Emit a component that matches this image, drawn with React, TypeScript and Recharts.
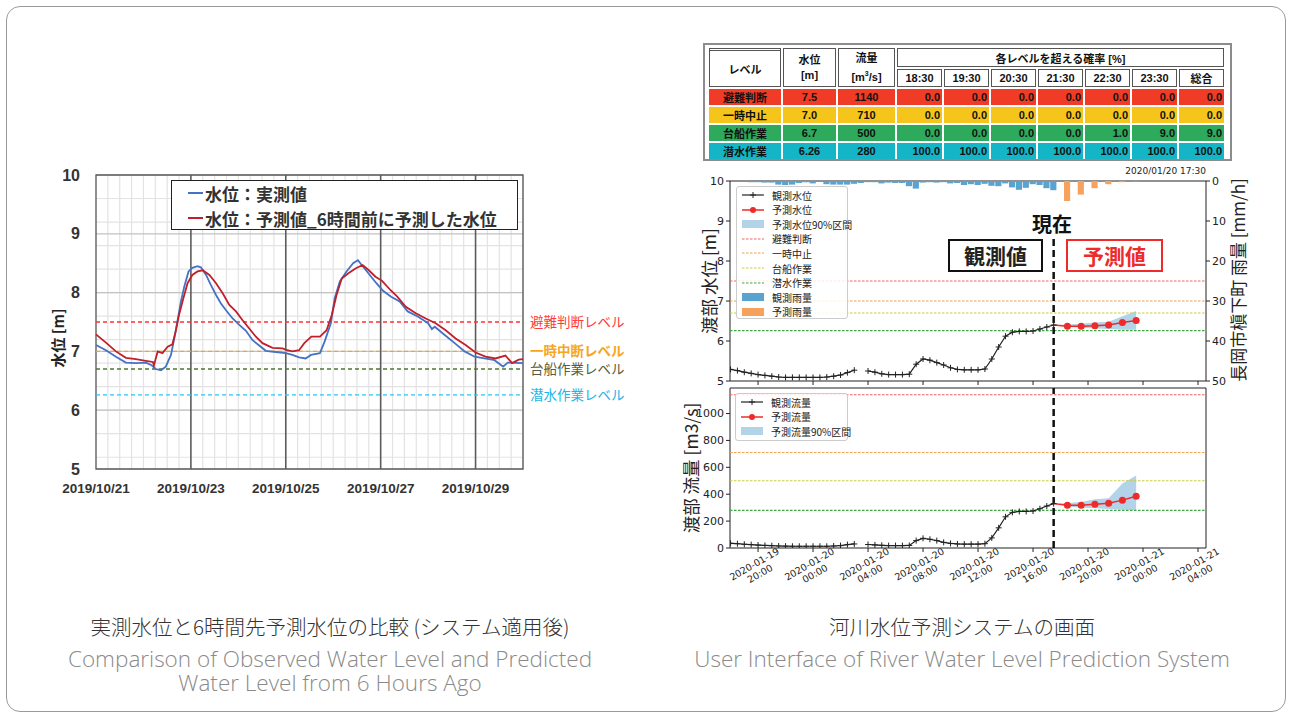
import React from 'react';
import {
  LineChart, Line, ComposedChart, Bar, Cell, Area, XAxis, YAxis, CartesianGrid, ReferenceLine, ReferenceArea,
} from 'recharts';

// ---- left: observed vs. 6h-ahead predicted level (x = days from 2019/10/21 00:00)
const obsDays = [0, 0.21, 0.42, 0.63, 0.84, 1.05, 1.16, 1.26, 1.37, 1.47, 1.58, 1.65, 1.72, 1.79, 1.86, 1.95, 2.03, 2.14, 2.21, 2.32, 2.42, 2.53, 2.63, 2.74, 2.88, 3.02, 3.16, 3.3, 3.44, 3.58, 3.79, 4.0, 4.14, 4.28, 4.42, 4.53, 4.72, 4.82, 4.95, 5.03, 5.14, 5.28, 5.42, 5.52, 5.63, 5.77, 5.91, 6.05, 6.22, 6.4, 6.57, 6.79, 7.0, 7.08, 7.14, 7.35, 7.56, 7.77, 7.98, 8.19, 8.4, 8.58, 8.68, 9.0];
const obsLevels = [7.11, 7.02, 6.91, 6.81, 6.8, 6.81, 6.77, 6.7, 6.68, 6.74, 6.94, 7.22, 7.53, 7.85, 8.1, 8.36, 8.42, 8.45, 8.43, 8.3, 8.13, 7.96, 7.82, 7.7, 7.56, 7.45, 7.35, 7.19, 7.1, 7.01, 6.99, 6.97, 6.94, 6.9, 6.88, 6.94, 6.97, 7.17, 7.48, 7.9, 8.19, 8.36, 8.5, 8.55, 8.44, 8.3, 8.16, 8.03, 7.93, 7.85, 7.68, 7.59, 7.48, 7.38, 7.42, 7.28, 7.14, 7.0, 6.91, 6.88, 6.85, 6.74, 6.81, 6.8];
const predDays = [0, 0.21, 0.42, 0.63, 0.84, 1.05, 1.2, 1.22, 1.3, 1.4, 1.51, 1.61, 1.68, 1.75, 1.84, 1.93, 2.03, 2.14, 2.25, 2.39, 2.53, 2.67, 2.81, 2.95, 3.09, 3.23, 3.37, 3.51, 3.72, 3.93, 4.03, 4.14, 4.28, 4.39, 4.54, 4.72, 4.86, 4.97, 5.07, 5.18, 5.32, 5.47, 5.62, 5.75, 5.89, 6.03, 6.21, 6.35, 6.53, 6.74, 6.95, 7.16, 7.37, 7.58, 7.79, 8.0, 8.21, 8.42, 8.63, 8.77, 8.91, 9.0];
const predLevels = [7.29, 7.15, 7.0, 6.89, 6.87, 6.84, 6.82, 6.76, 7.0, 6.97, 7.08, 7.12, 7.34, 7.62, 7.9, 8.16, 8.3, 8.36, 8.38, 8.3, 8.16, 7.99, 7.79, 7.68, 7.53, 7.39, 7.25, 7.14, 7.06, 7.05, 7.02, 7.0, 7.02, 7.14, 7.25, 7.25, 7.36, 7.62, 7.96, 8.24, 8.33, 8.41, 8.47, 8.38, 8.27, 8.2, 8.04, 7.93, 7.76, 7.65, 7.56, 7.48, 7.36, 7.22, 7.11, 6.98, 6.91, 6.88, 6.93, 6.8, 6.86, 6.87];
const leftTicks = [0, 2, 4, 6, 8];
const leftTickLabels = ['2019/10/21', '2019/10/23', '2019/10/25', '2019/10/27', '2019/10/29'];
const leftYTicks = [5, 6, 7, 8, 9, 10];
const levelValues = [7.5, 7.0, 6.7, 6.26];
const levelNames = ['避難判断レベル', '一時中断レベル', '台船作業レベル', '潜水作業レベル'];
const levelLineColors = ['#ff3030', '#f5a623', '#4c7a2c', '#2cc4f0'];
const levelTextColors = ['#ff3b3b', '#f5a623', '#55603f', '#22b5e8'];
const legendNames = ['水位：実測値', '水位：予測値_6時間前に予測した水位'];
const legendColors = ['#4472c4', '#c0202a'];

// ---- right: prediction system screen (x = hours from 2020-01-20 00:00)
const hours = [-6, -5.5, -5, -4.5, -4, -3.5, -3, -2.5, -2, -1.5, -1, -0.5, 0, 0.5, 1, 1.5, 2, 2.5, 3, 3.5, 4, 4.5, 5, 5.5, 6, 6.5, 7, 7.5, 8, 8.5, 9, 9.5, 10, 10.5, 11, 11.5, 12, 12.5, 13, 13.5, 14, 14.5, 15, 15.5, 16, 16.5, 17, 17.5, 18, 18.5, 19, 19.5, 20, 20.5, 21, 21.5, 22, 22.5, 23, 23.5];
const obsLevel = [5.29, 5.26, 5.22, 5.19, 5.16, 5.14, 5.12, 5.1, 5.09, 5.09, 5.09, 5.09, 5.09, 5.09, 5.1, 5.12, 5.15, 5.21, 5.27, null, 5.25, 5.22, 5.18, 5.16, 5.16, 5.16, 5.17, 5.42, 5.55, 5.52, 5.46, 5.4, 5.33, 5.29, 5.28, 5.28, 5.28, 5.3, 5.55, 5.85, 6.12, 6.22, 6.24, 6.24, 6.25, 6.3, 6.35, 6.4];
const obsFlow = [35, 32, 28, 25, 22, 19, 17, 15, 14, 13, 13, 13, 13, 13, 13, 15, 18, 25, 30, null, 26, 23, 20, 18, 18, 18, 19, 55, 72, 65, 55, 42, 34, 30, 29, 29, 29, 32, 75, 150, 232, 265, 272, 272, 275, 292, 312, 330];
const obsRain = [null, null, null, 0.3, 0.3, 0.4, 0.4, 0.9, 1.0, 0.9, 0.5, 0.3, 0.6, 0.2, 0.8, 0.9, 0.9, 0.9, 0.7, 0.5, 0.3, 0.3, 0.6, 0.4, 0.5, 0.5, 1.3, 1.9, 0.4, 0.3, 0.4, 0.3, 0.6, 0.5, 1.0, 0.8, 1.0, 0.7, 1.2, 1.3, 0.6, 1.6, 2.2, 1.7, 0.8, 1.0, 1.8, 2.3];
const fcHours = [17.5, 18.5, 19.5, 20.5, 21.5, 22.5, 23.5];
const fcLevel = [6.4, 6.37, 6.37, 6.38, 6.4, 6.46, 6.51];
const fcLevelLow = [6.4, 6.35, 6.33, 6.31, 6.3, 6.28, 6.28];
const fcLevelHigh = [6.4, 6.41, 6.43, 6.46, 6.48, 6.62, 6.75];
const fcFlow = [330, 318, 318, 326, 333, 356, 385];
const fcFlowLow = [330, 308, 300, 295, 290, 285, 280];
const fcFlowHigh = [330, 334, 342, 362, 370, 480, 540];
const fcRainHours = [18.5, 19.5, 20.5, 21.5, 22.5, 23.5];
const fcRain = [5.0, 3.4, 1.8, 0.8, 0.3, 0.1];
const rightTicks = [-4, 0, 4, 8, 12, 16, 20, 24, 28];
const rightTickDates = ['2020-01-19', '2020-01-20', '2020-01-20', '2020-01-20', '2020-01-20', '2020-01-20', '2020-01-20', '2020-01-21', '2020-01-21'];
const rightTickTimes = ['20:00', '00:00', '04:00', '08:00', '12:00', '16:00', '20:00', '00:00', '04:00'];
const stageThresholds = [7.5, 7.0, 6.7, 6.26];
const flowThresholds = [1140, 710, 500, 280];
const thresholdColors = ['#f26262', '#f0a04e', '#c9cc45', '#3fa845'];
const nowHour = 17.5;

// ---- table
const tableLevels = ['避難判断', '一時中止', '台船作業', '潜水作業'];
const tableStages = ['7.5', '7.0', '6.7', '6.26'];
const tableFlows = ['1140', '710', '500', '280'];
const tableTimes = ['18:30', '19:30', '20:30', '21:30', '22:30', '23:30', '総合'];
const tableProbs = [
  ['0.0', '0.0', '0.0', '0.0', '0.0', '0.0', '0.0'],
  ['0.0', '0.0', '0.0', '0.0', '0.0', '0.0', '0.0'],
  ['0.0', '0.0', '0.0', '0.0', '1.0', '9.0', '9.0'],
  ['100.0', '100.0', '100.0', '100.0', '100.0', '100.0', '100.0'],
];
const rowColors = ['#f03c26', '#f6c51c', '#2eaa5c', '#14b5c6'];

const JP = '"Noto Sans CJK JP", sans-serif';
const MPL = '"DejaVu Sans", "Noto Sans CJK JP", sans-serif';
const TBL = '"Liberation Sans", "Noto Sans CJK JP", sans-serif';

const leftRows = [
  ...obsDays.map((d, i) => ({ d, obs: obsLevels[i] })),
  ...predDays.map((d, i) => ({ d, pred: predLevels[i] })),
].sort((a, b) => a.d - b.d);

const minorX = Array.from({ length: 37 }, (_, i) => i * 0.25);
const minorY = Array.from({ length: 51 }, (_, i) => 5 + i * 0.1);

const rightRows = hours.map((h, i) => {
  const f = fcHours.indexOf(h);
  const r = fcRainHours.indexOf(h);
  return {
    h,
    lv: obsLevel[i] ?? null,
    fl: obsFlow[i] ?? null,
    rain: r >= 0 ? fcRain[r] : obsRain[i] ?? null,
    fcr: r >= 0,
    lvFc: f >= 0 ? fcLevel[f] : null,
    flFc: f >= 0 ? fcFlow[f] : null,
    lvBand: f >= 0 ? [fcLevelLow[f], fcLevelHigh[f]] : null,
    flBand: f >= 0 ? [fcFlowLow[f], fcFlowHigh[f]] : null,
  };
});

const xDomain: [number, number] = [-6.04, 28.58];

const PlusDot = (p: any) => {
  if (p.cx == null || p.cy == null || p.value == null) return <g key={`pd${p.index}`} />;
  return <path key={`pd${p.index}`} d={`M${p.cx - 3},${p.cy}h6M${p.cx},${p.cy - 3}v6`} stroke="#222" strokeWidth={1} />;
};

const RedDot = (p: any) => {
  if (p.cx == null || p.cy == null || p.value == null || p.payload.h === nowHour) return <g key={`rd${p.index}`} />;
  return <circle key={`rd${p.index}`} cx={p.cx} cy={p.cy} r={3.5} fill="#ee2a2a" />;
};

const DateTick = (p: any) => {
  const i = rightTicks.indexOf(p.payload.value);
  return (
    <g transform={`translate(${p.x - 2},${p.y + 13}) rotate(-30)`}>
      <text textAnchor="middle" fontSize={9.5} fill="#222" fontFamily={MPL}>
        <tspan x={0} dy={0}>{rightTickDates[i]}</tspan>
        <tspan x={0} dy={11}>{rightTickTimes[i]}</tspan>
      </text>
    </g>
  );
};

const Swatch = ({ kind, color }: { kind: string; color: string }) => (
  <svg width={22} height={10} style={{ marginRight: 8 }}>
    {kind === 'plus' && <><line x1={0} y1={5} x2={22} y2={5} stroke={color} strokeWidth={1.2} /><path d="M11,2v6M8,5h6" stroke={color} /></>}
    {kind === 'dot' && <><line x1={0} y1={5} x2={22} y2={5} stroke={color} strokeWidth={1.5} /><circle cx={11} cy={5} r={3} fill={color} /></>}
    {kind === 'patch' && <rect x={0} y={1} width={22} height={8} fill={color} />}
    {kind === 'dash' && <line x1={0} y1={5} x2={22} y2={5} stroke={color} strokeWidth={1.2} strokeDasharray="2.5 1.5" />}
  </svg>
);

const topLegend = [
  ['plus', '#222', '観測水位'], ['dot', '#ee2a2a', '予測水位'], ['patch', '#b3d3e8', '予測水位90%区間'],
  ['dash', thresholdColors[0], '避難判断'], ['dash', thresholdColors[1], '一時中止'], ['dash', thresholdColors[2], '台船作業'],
  ['dash', thresholdColors[3], '潜水作業'], ['patch', '#5aa2cf', '観測雨量'], ['patch', '#f6a15c', '予測雨量'],
];
const bottomLegend = [['plus', '#222', '観測流量'], ['dot', '#ee2a2a', '予測流量'], ['patch', '#b3d3e8', '予測流量90%区間']];

const MplLegend = ({ items, left, top, width, height }: any) => (
  <div style={{ position: 'absolute', left, top, width, height, border: '1px solid #ccc', borderRadius: 3, background: 'rgba(255,255,255,0.85)', boxSizing: 'border-box', fontFamily: JP, fontSize: 10, color: '#222' }}>
    {items.map((it: string[], i: number) => (
      <div key={i} style={{ position: 'absolute', left: 5, top: 1 + i * 14.6, height: 14, display: 'flex', alignItems: 'center', whiteSpace: 'nowrap' }}>
        <Swatch kind={it[0]} color={it[1]} />{it[2]}
      </div>
    ))}
  </div>
);

const rotLabel = (text: string, x: number, y: number, size: number, extra: any = {}) => (
  <div style={{ position: 'absolute', left: x, top: y, transform: 'translate(-50%,-50%) rotate(-90deg)', whiteSpace: 'nowrap', fontSize: size, ...extra }}>{text}</div>
);

const cellHead: React.CSSProperties = { border: '1.5px solid #555', background: '#fff', textAlign: 'center', padding: 0 };
const enCaption: React.CSSProperties = { position: 'absolute', textAlign: 'center', fontFamily: '"Open Sans", sans-serif', fontWeight: 300, fontSize: 22.5, lineHeight: '23px', color: '#8a8a8a', whiteSpace: 'nowrap' };
const jpCaption: React.CSSProperties = { position: 'absolute', top: 611, textAlign: 'center', fontSize: 20.5, fontWeight: 300, color: '#333', whiteSpace: 'nowrap' };

export default function App() {
  return (
    <div style={{ position: 'absolute', left: 0, top: 0, width: 1292, height: 718, background: '#fff', fontFamily: JP, overflow: 'hidden' }}>
      <div style={{ position: 'absolute', left: 6, top: 6, width: 1280, height: 706, border: '1px solid #9a9a9a', borderRadius: 14, boxSizing: 'border-box' }} />

      {/* left chart */}
      <div style={{ position: 'absolute', left: 0, top: 160, fontFamily: JP }}>
        <LineChart width={640} height={345} data={leftRows} margin={{ top: 15, right: 117, bottom: 0, left: 56 }}>
          <CartesianGrid stroke="#e3e3e3" strokeWidth={1.2} horizontalValues={minorY} verticalValues={minorX} />
          <CartesianGrid stroke="#c2c2c2" strokeWidth={1.2} horizontalValues={[6, 7, 8, 9]} vertical={false} />
          <XAxis type="number" dataKey="d" domain={[0, 9]} ticks={leftTicks} tickFormatter={(v: number) => leftTickLabels[leftTicks.indexOf(v)]}
            tickLine={false} axisLine={false} tickSize={0} tickMargin={14} height={36}
            tick={{ fontSize: 13.5, fontWeight: 700, fill: '#333', fontFamily: '"Liberation Sans", sans-serif' }} />
          <YAxis type="number" domain={[5, 10]} ticks={leftYTicks} tickLine={false} axisLine={false} tickSize={0} tickMargin={16} width={40}
            tick={{ fontSize: 16, fontWeight: 700, fill: '#333', fontFamily: '"Liberation Sans", sans-serif' }} />
          {leftTicks.slice(1).map((t) => <ReferenceLine key={t} x={t} stroke="#5c5c5c" strokeWidth={1.6} />)}
          {levelValues.map((v, i) => (
            <ReferenceLine key={v} y={v} stroke={levelLineColors[i]} strokeWidth={1.4} strokeDasharray="4 3"
              label={{ value: levelNames[i], position: 'right', offset: 7, fill: levelTextColors[i], fontSize: 13.5, fontWeight: i === 1 ? 700 : 400 }} />
          ))}
          <ReferenceArea x1={0} x2={9} y1={5} y2={10} fill="none" stroke="#555" strokeWidth={1.3} />
          <Line dataKey="obs" stroke="#4472c4" strokeWidth={1.8} dot={false} connectNulls isAnimationActive={false} />
          <Line dataKey="pred" stroke="#c0202a" strokeWidth={1.8} dot={false} connectNulls isAnimationActive={false} />
        </LineChart>
      </div>
      {rotLabel('水位 [m]', 57, 338, 15, { fontWeight: 700, color: '#222' })}
      <div style={{ position: 'absolute', left: 171, top: 180, width: 347, height: 50, border: '1.5px solid #222', background: '#fff', boxSizing: 'border-box', fontWeight: 700, fontSize: 17, color: '#333' }}>
        {legendNames.map((n, i) => (
          <div key={n} style={{ position: 'absolute', left: 16, top: 1 + i * 25, height: 22, display: 'flex', alignItems: 'center', whiteSpace: 'nowrap' }}>
            <span style={{ display: 'inline-block', width: 15, height: 2.5, background: legendColors[i], marginRight: 2 }} />{n}
          </div>
        ))}
      </div>

      {/* right: table */}
      <div style={{ position: 'absolute', left: 703, top: 43, width: 529, height: 118, border: '2px solid #8c8c8c', boxSizing: 'border-box', background: '#fff' }}>
        <table style={{ position: 'absolute', left: 2, top: 1, borderCollapse: 'separate', borderSpacing: 2, tableLayout: 'fixed', fontFamily: TBL, fontWeight: 700, fontSize: 11, color: '#111' }}>
          <colgroup>
            <col style={{ width: 72 }} /><col style={{ width: 53 }} /><col style={{ width: 57 }} />
            {tableTimes.map((t) => <col key={t} style={{ width: 45 }} />)}
          </colgroup>
          <tbody>
            <tr style={{ height: 19 }}>
              <td rowSpan={2} style={{ ...cellHead, borderTop: '3px double #555' }}>レベル</td>
              <td rowSpan={2} style={{ ...cellHead, lineHeight: '15px' }}>水位<br />[m]</td>
              <td rowSpan={2} style={{ ...cellHead, lineHeight: '15px' }}>流量<br />[m<sup style={{ fontSize: 7 }}>3</sup>/s]</td>
              <td colSpan={7} style={cellHead}>各レベルを超える確率 [%]</td>
            </tr>
            <tr style={{ height: 18 }}>
              {tableTimes.map((t) => <td key={t} style={cellHead}>{t}</td>)}
            </tr>
            {tableLevels.map((lv, r) => (
              <tr key={lv} style={{ height: 15 }}>
                <td style={{ background: rowColors[r], textAlign: 'center', padding: 0 }}>{lv}</td>
                <td style={{ background: rowColors[r], textAlign: 'center', padding: 0 }}>{tableStages[r]}</td>
                <td style={{ background: rowColors[r], textAlign: 'center', padding: 0 }}>{tableFlows[r]}</td>
                {tableProbs[r].map((p, c) => (
                  <td key={c} style={{ background: rowColors[r], textAlign: 'right', padding: '0 2px 0 0' }}>{p}</td>
                ))}
              </tr>
            ))}
          </tbody>
        </table>
      </div>

      {/* right: water level + rainfall */}
      <div style={{ position: 'absolute', left: 680, top: 166, fontFamily: MPL }}>
        <ComposedChart width={580} height={222} data={rightRows} margin={{ top: 15, right: 24, bottom: 0, left: 20 }}>
          <XAxis type="number" dataKey="h" domain={xDomain} ticks={rightTicks} tickFormatter={() => ''} height={7} tickSize={4} axisLine={false} tickLine={{ stroke: '#222' }} allowDataOverflow />
          <YAxis yAxisId="lv" type="number" domain={[5, 10]} ticks={[5, 6, 7, 8, 9, 10]} width={30} tickSize={4} axisLine={false} tickLine={{ stroke: '#222' }} tick={{ fontSize: 11, fill: '#222' }} allowDataOverflow />
          <YAxis yAxisId="rain" orientation="right" type="number" reversed domain={[0, 50]} ticks={[0, 10, 20, 30, 40, 50]} width={30} tickSize={4} axisLine={false} tickLine={{ stroke: '#222' }} tick={{ fontSize: 11, fill: '#222' }} />
          <Bar yAxisId="rain" dataKey="rain" barSize={7} isAnimationActive={false}>
            {rightRows.map((r, i) => <Cell key={i} fill={r.fcr ? '#f6a15c' : '#5aa2cf'} />)}
          </Bar>
          <Area yAxisId="lv" dataKey="lvBand" fill="#b3d3e8" fillOpacity={1} stroke="none" connectNulls isAnimationActive={false} />
          {stageThresholds.map((v, i) => <ReferenceLine key={v} yAxisId="lv" y={v} stroke={thresholdColors[i]} strokeWidth={1.1} strokeDasharray="2.5 1.5" />)}
          <ReferenceLine yAxisId="lv" segment={[{ x: nowHour, y: 8.55 }, { x: nowHour, y: 5 }]} stroke="#111" strokeWidth={2.5} strokeDasharray="7 4" />
          <Line yAxisId="lv" dataKey="lv" stroke="#222" strokeWidth={1.2} dot={PlusDot} isAnimationActive={false} />
          <Line yAxisId="lv" dataKey="lvFc" stroke="#ee2a2a" strokeWidth={1.5} dot={RedDot} connectNulls isAnimationActive={false} />
          <ReferenceArea yAxisId="lv" x1={xDomain[0]} x2={xDomain[1]} y1={5} y2={10} fill="none" stroke="#222" strokeWidth={1} />
        </ComposedChart>
      </div>
      {rotLabel('渡部 水位 [m]', 708, 281, 17.5, { color: '#222' })}
      {rotLabel('長岡市槇下町 雨量 [mm/h]', 1237, 280, 17, { color: '#222' })}
      <div style={{ position: 'absolute', left: 1120, top: 166, width: 86, textAlign: 'right', fontFamily: MPL, fontSize: 9, color: '#222' }}>2020/01/20 17:30</div>
      <div style={{ position: 'absolute', left: 1022, top: 209, width: 60, textAlign: 'center', fontSize: 20, fontWeight: 700, color: '#111' }}>現在</div>
      <div style={{ position: 'absolute', left: 948, top: 239, width: 95, height: 33, border: '2px solid #111', boxSizing: 'border-box', background: '#fff', textAlign: 'center', lineHeight: '28px', fontSize: 21, fontWeight: 700, color: '#222' }}>観測値</div>
      <div style={{ position: 'absolute', left: 1066, top: 239, width: 97, height: 33, border: '2px solid #ee2a2a', boxSizing: 'border-box', background: '#fff', textAlign: 'center', lineHeight: '28px', fontSize: 21, fontWeight: 700, color: '#ee2a2a' }}>予測値</div>
      <MplLegend items={topLegend} left={736} top={186} width={112} height={133} />

      {/* right: discharge */}
      <div style={{ position: 'absolute', left: 680, top: 381, fontFamily: MPL }}>
        <ComposedChart width={580} height={215} data={rightRows} margin={{ top: 7, right: 54, bottom: 0, left: 15 }}>
          <XAxis type="number" dataKey="h" domain={xDomain} ticks={rightTicks} tick={<DateTick />} height={48} tickSize={4} axisLine={false} tickLine={{ stroke: '#222' }} allowDataOverflow />
          <YAxis yAxisId="fl" type="number" domain={[0, 1190]} ticks={[0, 200, 400, 600, 800, 1000]} width={35} tickSize={4} axisLine={false} tickLine={{ stroke: '#222' }} tick={{ fontSize: 11, fill: '#222' }} allowDataOverflow />
          <Area yAxisId="fl" dataKey="flBand" fill="#b3d3e8" fillOpacity={1} stroke="none" connectNulls isAnimationActive={false} />
          {flowThresholds.map((v, i) => <ReferenceLine key={v} yAxisId="fl" y={v} stroke={thresholdColors[i]} strokeWidth={1.1} strokeDasharray="2.5 1.5" />)}
          <ReferenceLine yAxisId="fl" x={nowHour} stroke="#111" strokeWidth={2.5} strokeDasharray="7 4" />
          <Line yAxisId="fl" dataKey="fl" stroke="#222" strokeWidth={1.2} dot={PlusDot} isAnimationActive={false} />
          <Line yAxisId="fl" dataKey="flFc" stroke="#ee2a2a" strokeWidth={1.5} dot={RedDot} connectNulls isAnimationActive={false} />
          <ReferenceArea yAxisId="fl" x1={xDomain[0]} x2={xDomain[1]} y1={0} y2={1190} fill="none" stroke="#222" strokeWidth={1} />
        </ComposedChart>
      </div>
      {rotLabel('渡部 流量 [m3/s]', 690, 468, 17.5, { color: '#222' })}
      <MplLegend items={bottomLegend} left={735} top={393} width={113} height={48} />

      {/* captions */}
      <div style={{ ...jpCaption, left: 0, width: 660 }}>実測水位と6時間先予測水位の比較 (システム適用後)</div>
      <div style={{ ...enCaption, left: 0, width: 660, top: 647 }}>Comparison of Observed Water Level and Predicted</div>
      <div style={{ ...enCaption, left: 0, width: 660, top: 671 }}>Water Level from 6 Hours Ago</div>
      <div style={{ ...jpCaption, left: 662, width: 600 }}>河川水位予測システムの画面</div>
      <div style={{ ...enCaption, left: 662, width: 600, top: 647 }}>User Interface of River Water Level Prediction System</div>
    </div>
  );
}
